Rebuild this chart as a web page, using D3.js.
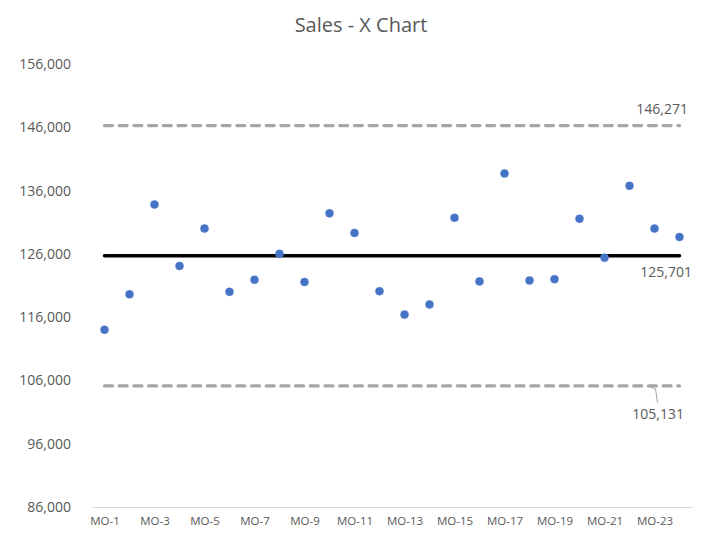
<!DOCTYPE html>
<meta charset="utf-8">
<script src="https://d3js.org/d3.v7.min.js"></script>
<style>
  body { margin: 0; background: #fff; }
  text { font-family: "Open Sans", "Noto Sans", sans-serif; fill: #595959; }
</style>
<div id="chart"></div>
<script>
  // data
  const months = d3.range(1, 25).map(i => "MO-" + i);
  const sales = [114000, 119600, 133800, 124100, 130000, 120000, 121900, 126000,
                 121550, 132400, 129300, 120100, 116400, 118000, 131700, 121650,
                 138700, 121800, 122000, 131550, 125400, 136750, 130000, 128650];
  const limitNames = ["UCL", "CL", "LCL"];
  const limitValues = [146271, 125701, 105131];
  const yTicks = [86000, 96000, 106000, 116000, 126000, 136000, 146000, 156000];

  const W = 720, H = 541;
  const margin = {top: 64, right: 28, bottom: 34, left: 92};

  const svg = d3.select("#chart").append("svg")
    .attr("width", W).attr("height", H);

  const x = d3.scalePoint()
    .domain(months)
    .range([margin.left, W - margin.right])
    .padding(0.5);

  const y = d3.scaleLinear()
    .domain([86000, 156000])
    .range([H - margin.bottom, margin.top]);

  const fmt = d3.format(",");

  // title
  svg.append("text")
    .attr("x", 361).attr("y", 32)
    .attr("text-anchor", "middle")
    .style("font-size", "20px")
    .text("Sales - X Chart");

  // y axis (labels only)
  const yAxis = svg.append("g")
    .attr("transform", `translate(${margin.left - 18},0)`)
    .call(d3.axisLeft(y).tickValues(yTicks).tickFormat(fmt).tickSize(0));
  yAxis.select(".domain").remove();
  yAxis.selectAll("text").style("font-size", "14px").attr("fill", "#595959");

  // x axis
  const xAxis = svg.append("g")
    .attr("transform", `translate(0,${H - margin.bottom})`)
    .call(d3.axisBottom(x).tickSize(0).tickPadding(10)
      .tickFormat((d, i) => i % 2 === 0 ? d : ""));
  xAxis.select(".domain").attr("stroke", "#d9d9d9").attr("stroke-width", 1.2);
  xAxis.selectAll("text").style("font-size", "11.5px").attr("fill", "#595959");

  const first = x(months[0]), last = x(months[months.length - 1]);

  // control limit lines
  limitNames.forEach((name, i) => {
    const v = limitValues[i];
    const line = svg.append("line")
      .attr("x1", first).attr("x2", last)
      .attr("y1", y(v)).attr("y2", y(v))
      .attr("stroke-linecap", "round");
    if (name === "CL") {
      line.attr("stroke", "#000").attr("stroke-width", 3.5);
    } else {
      line.attr("stroke", "#a6a6a6").attr("stroke-width", 3.2)
        .attr("stroke-dasharray", "8,6.7");
    }
  });

  // limit labels
  svg.append("text")
    .attr("x", 688).attr("y", y(limitValues[0]) - 12)
    .attr("text-anchor", "end").style("font-size", "14px")
    .text(fmt(limitValues[0]));
  svg.append("text")
    .attr("x", 692).attr("y", y(limitValues[1]) + 21)
    .attr("text-anchor", "end").style("font-size", "14px")
    .text(fmt(limitValues[1]));
  svg.append("polyline")
    .attr("points", `${x(months[22]) - 4},${y(limitValues[2]) + 1} ${x(months[22]) + 1},${y(limitValues[2]) + 3} ${x(months[22]) + 3},${y(limitValues[2]) + 17}`)
    .attr("fill", "none").attr("stroke", "#a6a6a6").attr("stroke-width", 1);
  svg.append("text")
    .attr("x", 684).attr("y", y(limitValues[2]) + 33)
    .attr("text-anchor", "end").style("font-size", "14px")
    .text(fmt(limitValues[2]));

  // points
  svg.append("g").selectAll("circle")
    .data(sales)
    .join("circle")
      .attr("cx", (d, i) => x(months[i]))
      .attr("cy", d => y(d))
      .attr("r", 4)
      .attr("fill", "#4472c4")
      .attr("stroke", "#5b86d0")
      .attr("stroke-width", 0.6);
</script>
